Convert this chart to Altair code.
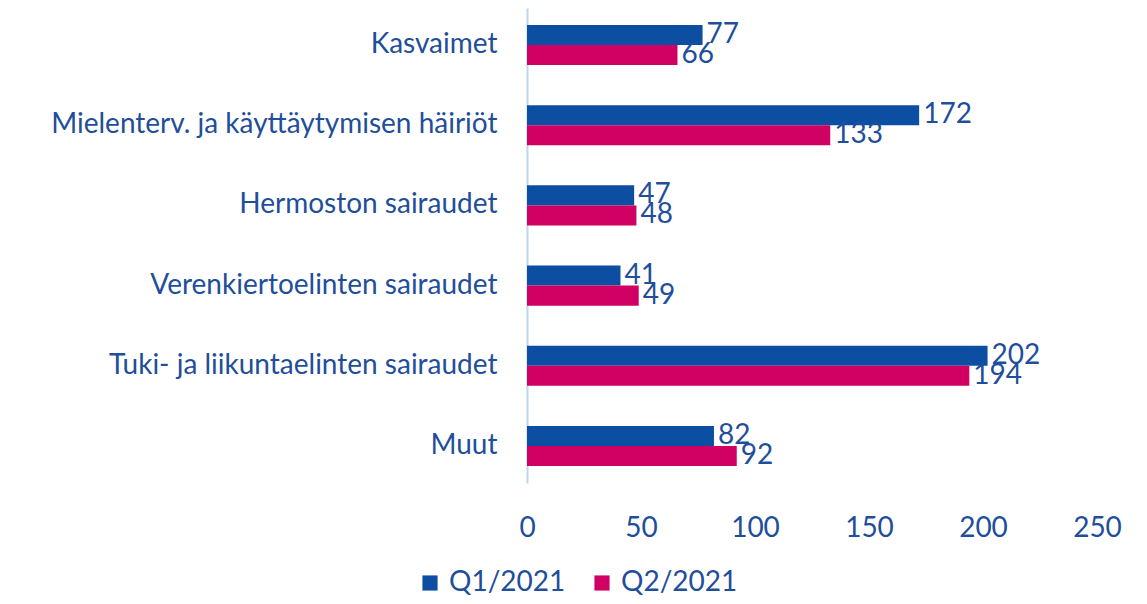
import altair as alt
import pandas as pd

categories = ["Kasvaimet", "Mielenterv. ja käyttäytymisen häiriöt", "Hermoston sairaudet",
              "Verenkiertoelinten sairaudet", "Tuki- ja liikuntaelinten sairaudet", "Muut"]
series = ["Q1/2021", "Q2/2021"]
q1 = [77, 172, 47, 41, 202, 82]
q2 = [66, 133, 48, 49, 194, 92]
colors = ["#0B4EA2", "#D10063"]

rows = []
for c, a, b in zip(categories, q1, q2):
    rows.append({"cat": c, "series": series[0], "value": a})
    rows.append({"cat": c, "series": series[1], "value": b})
df = pd.DataFrame(rows)

FONT = "Lato"
TXT = "#1F4E9B"
FS = 28

y = alt.Y("cat:N", sort=categories, title=None,
          scale=alt.Scale(paddingInner=0.5, paddingOuter=0.2125),
          axis=alt.Axis(domainColor="#BDD7EE", domainWidth=2, ticks=False, labelPadding=30,
                        labelFontSize=FS, labelFont=FONT, labelColor=TXT, labelLimit=600))
x = alt.X("value:Q", title=None, scale=alt.Scale(domain=[0, 250]),
          axis=alt.Axis(values=[0, 50, 100, 150, 200, 250], grid=False, domain=False, ticks=False,
                        labelFlush=False, labelPadding=31, labelFontSize=FS, labelFont=FONT,
                        labelColor=TXT))
yoff = alt.YOffset("series:N", sort=series)

bars = alt.Chart(df).mark_bar().encode(
    y=y, x=x, yOffset=yoff,
    color=alt.Color("series:N", sort=series, scale=alt.Scale(domain=series, range=colors),
                    legend=alt.Legend(title=None, orient="none", direction="horizontal",
                                      legendX=-111, legendY=561, symbolType="square",
                                      symbolSize=230, symbolStrokeWidth=0, labelFontSize=FS,
                                      labelFont=FONT, labelColor=TXT, columnPadding=22,
                                      labelOffset=5, symbolOpacity=1))
)
labels = alt.Chart(df).mark_text(align="left", baseline="middle", dx=4, fontSize=FS,
                                 font=FONT, color=TXT).encode(
    y=y, x=x, yOffset=yoff, text="value:Q"
)

chart = (bars + labels).properties(
    width=570, height=475,
    background="white",
    autosize=alt.AutoSizeParams(type="none"),
    padding={"left": 519, "top": 0, "right": 42, "bottom": 119},
).configure_view(stroke=None)

chart.save("out.html", embed_options={"renderer": "svg", "actions": False})
